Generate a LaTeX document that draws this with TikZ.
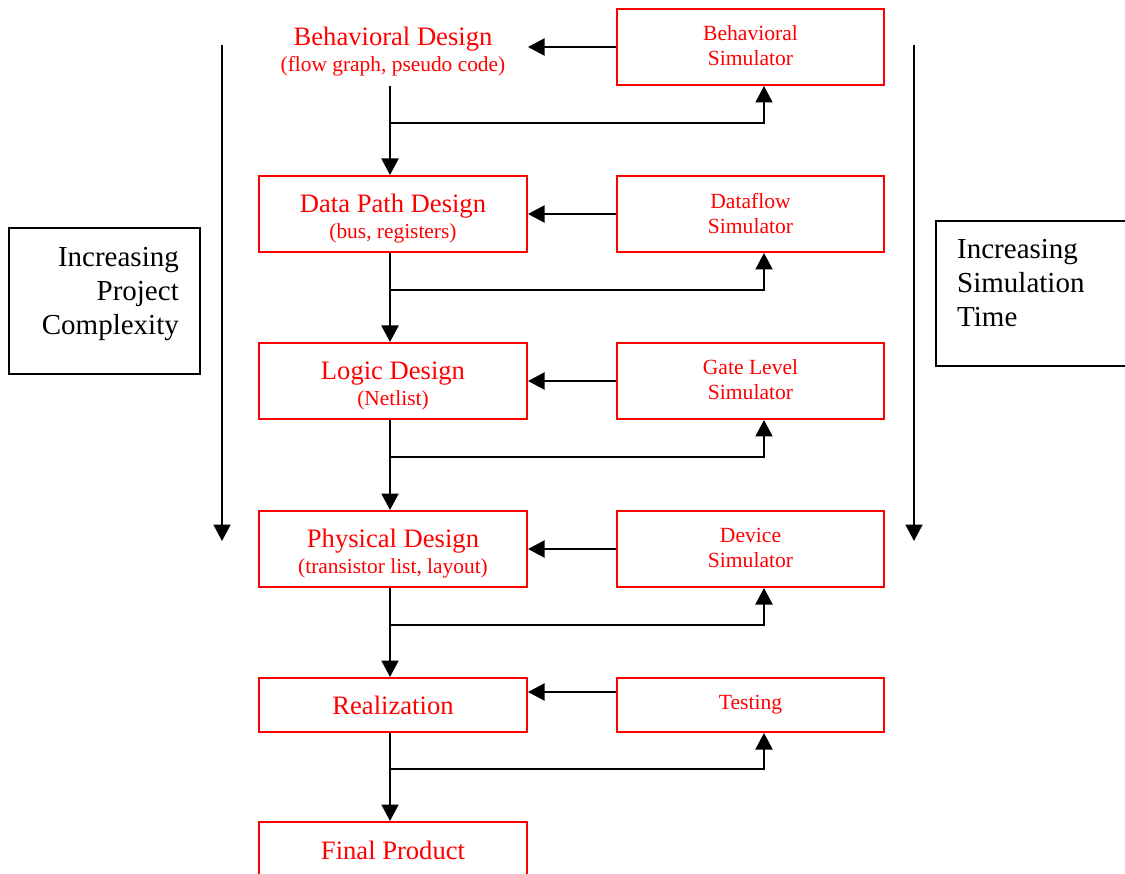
\documentclass[tikz,border=0pt]{standalone}
\usepackage{fontspec}
\setmainfont{Liberation Serif}
\usetikzlibrary{arrows.meta}
\definecolor{boxred}{RGB}{255,0,0}
\newcommand{\subl}[1]{{\fontsize{21.4}{25}\selectfont #1}}
\newcommand{\firstl}[1]{\rule{0pt}{28pt}#1}
\begin{document}
\begin{tikzpicture}[x=1pt,y=-1pt,
  arr/.style={draw=black, line width=2pt, -{Triangle[length=16.5pt,width=17pt]}},
  stage/.style={draw=boxred, line width=2pt, minimum width=268pt, minimum height=76pt,
    text=boxred, align=center, inner sep=0pt, font=\fontsize{26.6}{28}\selectfont},
  stagenobox/.style={stage, draw=none},
  sim/.style={draw=boxred, line width=2pt, minimum width=267pt, minimum height=76pt,
    text=boxred, align=center, inner sep=0pt, font=\fontsize{21.6}{25}\selectfont},
  sidebox/.style={draw=black, line width=2pt, inner sep=0pt},
  sidetext/.style={align=#1, inner sep=0pt, font=\fontsize{29}{34}\selectfont},
]
\useasboundingbox (0,0) rectangle (1125,874);
\clip (0,0) rectangle (1125,874);

% stages
\node[stagenobox] (bd) at (393,47) {\firstl{Behavioral Design}\\[-2pt]\subl{(flow graph, pseudo code)}};
\node[stage] (dp) at (393,214) {\firstl{Data Path Design}\\[-2pt]\subl{(bus, registers)}};
\node[stage] (ld) at (393,381) {\firstl{Logic Design}\\[-2pt]\subl{(Netlist)}};
\node[stage] (pd) at (393,549) {\firstl{Physical Design}\\[-2pt]\subl{(transistor list, layout)}};
\node[stage, minimum height=54pt] (re) at (393,705) {Realization};
\node[stage, minimum height=56pt] (fp) at (393,850) {Final Product};

% simulators
\node[sim] (bs) at (750.5,47) {\raisebox{2pt}{Behavioral}\\\raisebox{2pt}{Simulator}};
\node[sim] (ds) at (750.5,214) {\raisebox{2pt}{Dataflow}\\\raisebox{2pt}{Simulator}};
\node[sim] (gs) at (750.5,381) {\raisebox{2pt}{Gate Level}\\\raisebox{2pt}{Simulator}};
\node[sim] (vs) at (750.5,549) {\raisebox{2pt}{Device}\\\raisebox{2pt}{Simulator}};
\node[sim, minimum height=54pt] (ts) at (750.5,705) {\raisebox{2pt}{Testing}};

% side boxes
\node[sidebox, minimum width=191pt, minimum height=146pt] (lb) at (104.5,301) {};
\node[sidetext=right, anchor=east] (lt) at (179,294) {Increasing\\Project\\Complexity};
\node[sidebox, minimum width=204pt, minimum height=145pt] (rb) at (1038,293.5) {};
\node[sidetext=left, anchor=west] (rt) at (957,283) {Increasing\\Simulation\\Time};

% side arrows
\coordinate (la1) at (222,45); \coordinate (la2) at (222,541);
\coordinate (ra1) at (914,45); \coordinate (ra2) at (914,541);
\draw[arr] (la1) -- (la2);
\draw[arr] (ra1) -- (ra2);

% simulator -> stage arrows
\draw[arr] (bs.west) -- (bd.east);
\draw[arr] (ds.west) -- (dp.east);
\draw[arr] (gs.west) -- (ld.east);
\draw[arr] (vs.west) -- (pd.east);
\draw[arr] ([yshift=13pt]ts.west) -- ([yshift=13pt]re.east);

% downward flow
\draw[arr] ([xshift=-3pt]bd.south) -- ([xshift=-3pt]dp.north);
\draw[arr] ([xshift=-3pt]dp.south) -- ([xshift=-3pt]ld.north);
\draw[arr] ([xshift=-3pt]ld.south) -- ([xshift=-3pt]pd.north);
\draw[arr] ([xshift=-3pt]pd.south) -- ([xshift=-3pt]re.north);
\draw[arr] ([xshift=-3pt]re.south) -- ([xshift=-3pt]fp.north);

% branches to simulators
\coordinate (b1) at (390,123);
\coordinate (b2) at (390,290);
\coordinate (b3) at (390,457);
\coordinate (b4) at (390,625);
\coordinate (b5) at (390,769);
\draw[arr] (b1) -| ([xshift=13.5pt]bs.south);
\draw[arr] (b2) -| ([xshift=13.5pt]ds.south);
\draw[arr] (b3) -| ([xshift=13.5pt]gs.south);
\draw[arr] (b4) -| ([xshift=13.5pt]vs.south);
\draw[arr] (b5) -| ([xshift=13.5pt]ts.south);
\end{tikzpicture}
\end{document}
